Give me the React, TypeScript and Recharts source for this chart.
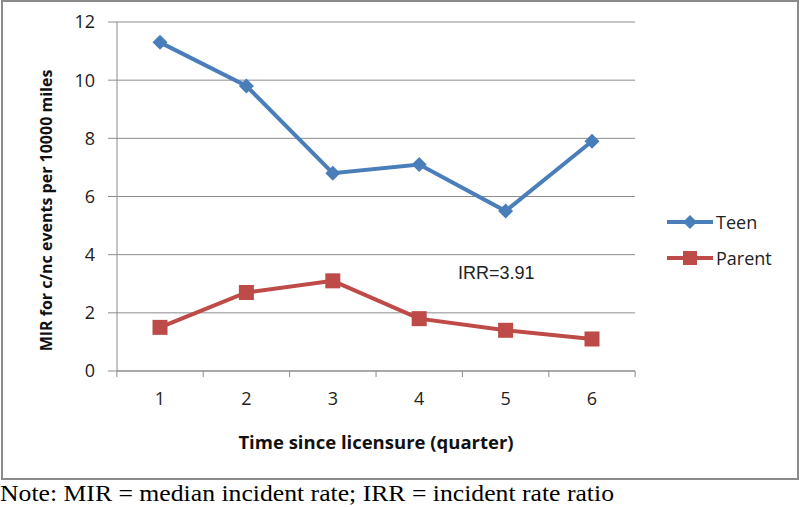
import React from 'react';
import { LineChart, Line, XAxis, YAxis, CartesianGrid } from 'recharts';

const quarters = ['1', '2', '3', '4', '5', '6'];
const teenValues = [11.3, 9.8, 6.8, 7.1, 5.5, 7.9];
const parentValues = [1.5, 2.7, 3.1, 1.8, 1.4, 1.1];
const yTicks = [0, 2, 4, 6, 8, 10, 12];

const data = quarters.map((q, i) => ({ q, Teen: teenValues[i], Parent: parentValues[i] }));

const TEEN = '#4A7EBB';
const PARENT = '#BE4B48';
const AXIS = '#8c8c8c';
const FONT = '"Open Sans", sans-serif';
const X_TICK_MARGIN = 21;
const X_TICK_LEN = 6;

const Diamond = (props: any) => {
  const { cx, cy } = props;
  if (cx == null || cy == null) return null;
  const r = 7.5;
  return <path d={`M${cx},${cy - r}L${cx + r},${cy}L${cx},${cy + r}L${cx - r},${cy}Z`} fill={TEEN} />;
};

const Square = (props: any) => {
  const { cx, cy } = props;
  if (cx == null || cy == null) return null;
  const s = 15;
  return <rect x={cx - s / 2} y={cy - s / 2} width={s} height={s} fill={PARENT} />;
};

const XTick = (props: any) => {
  const { x, y, payload, index, visibleTicksCount, width } = props;
  const count = visibleTicksCount || quarters.length;
  const band = (width || 518) / count;
  const axisY = y - X_TICK_MARGIN;
  const left = x - band / 2;
  const right = x + band / 2;
  return (
    <g>
      <line x1={left} x2={left} y1={axisY} y2={axisY + X_TICK_LEN} stroke={AXIS} />
      {index === count - 1 && <line x1={right} x2={right} y1={axisY} y2={axisY + X_TICK_LEN} stroke={AXIS} />}
      <text x={x} y={y} dy="0.71em" textAnchor="middle" style={{ fontFamily: FONT, fontSize: 18, fill: '#222' }}>
        {payload.value}
      </text>
    </g>
  );
};

const LegendBox = () => {
  const items = [
    { name: 'Teen', color: TEEN, shape: 'diamond' },
    { name: 'Parent', color: PARENT, shape: 'square' },
  ];
  return (
    <div style={{ position: 'absolute', left: 666, top: 210 }}>
      {items.map((it, i) => (
        <div key={it.name} style={{ display: 'flex', alignItems: 'center', height: 24, marginBottom: i === 0 ? 12 : 0 }}>
          <svg width={48} height={20}>
            <line x1={1} y1={10} x2={47} y2={10} stroke={it.color} strokeWidth={4} />
            {it.shape === 'diamond' ? (
              <path d="M24,3L31,10L24,17L17,10Z" fill={it.color} />
            ) : (
              <rect x={17} y={3} width={14} height={14} fill={it.color} />
            )}
          </svg>
          <span style={{ fontFamily: FONT, fontSize: 18, color: '#222', marginLeft: 2 }}>{it.name}</span>
        </div>
      ))}
    </div>
  );
};

const YLabel = (props: any) => {
  const vb = props.viewBox || {};
  const cx = 52;
  const cy = vb.y + vb.height / 2 + 14;
  return (
    <text x={cx} y={cy} transform={`rotate(-90, ${cx}, ${cy})`} textAnchor="middle" style={{ fontFamily: FONT, fontSize: 16, fontWeight: 'bold', fill: '#111' }}>
      MIR for c/nc events per 10000 miles
    </text>
  );
};

export default function App() {
  return (
    <div style={{ position: 'absolute', left: 0, top: 0, width: 800, height: 507, background: '#fff' }}>
      <div style={{ position: 'absolute', left: 1, top: 0, width: 794, height: 476, border: '2px solid #8a8a8a' }} />
      <div style={{ position: 'absolute', left: 0, top: 0 }}>
        <LineChart width={800} height={480} data={data} margin={{ top: 22, right: 165, bottom: 79, left: 0 }}>
          <CartesianGrid vertical={false} stroke={AXIS} strokeWidth={1} />
          <XAxis
            dataKey="q"
            height={30}
            padding={{ left: 43, right: 43 }}
            axisLine={{ stroke: AXIS }}
            tickLine={false}
            tickSize={0}
            tickMargin={X_TICK_MARGIN}
            tick={<XTick />}
            interval={0}
            label={{ value: 'Time since licensure (quarter)', position: 'insideBottom', offset: -48, style: { fontFamily: FONT, fontSize: 18.5, fontWeight: 'bold', fill: '#111' } }}
          />
          <YAxis
            width={117}
            domain={[0, 12]}
            ticks={yTicks}
            axisLine={{ stroke: AXIS }}
            tickLine={{ stroke: AXIS }}
            tickSize={9}
            tickMargin={13}
            tick={{ fontFamily: FONT, fontSize: 18, fill: '#222' }}
            label={<YLabel />}
          />
          <Line dataKey="Teen" stroke={TEEN} strokeWidth={4} dot={<Diamond />} isAnimationActive={false} />
          <Line dataKey="Parent" stroke={PARENT} strokeWidth={4} dot={<Square />} isAnimationActive={false} />
        </LineChart>
      </div>
      <LegendBox />
      <div style={{ position: 'absolute', left: 458, top: 263, fontFamily: '"Liberation Sans", Arial, sans-serif', fontSize: 18, color: '#222' }}>IRR=3.91</div>
      <div style={{ position: 'absolute', left: 0, top: 481, fontFamily: '"Liberation Serif", "Times New Roman", serif', fontSize: 23, color: '#000', whiteSpace: 'nowrap', transform: 'scaleX(1.117)', transformOrigin: 'left top' }}>
        Note: MIR = median incident rate; IRR = incident rate ratio
      </div>
    </div>
  );
}
